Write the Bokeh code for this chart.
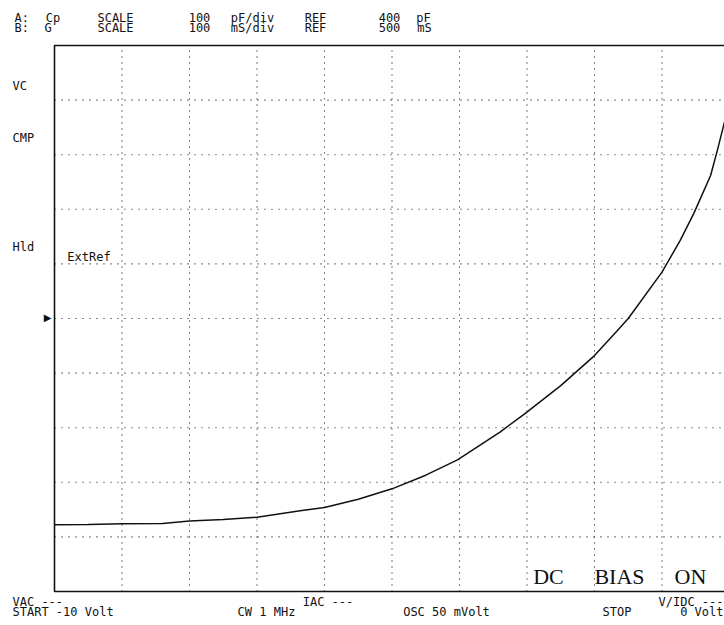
from bokeh.plotting import figure
from bokeh.models import Label, Range1d
from bokeh.embed import file_html
from bokeh.resources import INLINE

bias_volts = [-10.0, -9.5, -9.0, -8.4, -8.0, -7.5, -7.0, -6.36, -6.0, -5.5,
              -5.0, -4.5, -4.03, -3.4, -3.04, -2.5, -2.3, -2.0, -1.66, -1.5,
              -1.0, -0.73, -0.53, -0.43, -0.28, -0.18, -0.08, 0.0]
cp_pf = [22, 22.5, 24, 24.5, 29, 32, 36, 48, 54, 69,
         88, 113, 141, 192, 225, 277, 299, 332, 378, 400,
         485, 543, 592, 620, 662, 708, 757, 795]

v_start, v_stop = -10.0, 0.0          # sweep START / STOP (Volt)
cp_low, cp_high = -100.0, 900.0       # REF 400 pF at centre, 100 pF/div
x_grid_ticks = [-9, -8, -7, -6, -5, -4, -3, -2, -1]
y_grid_ticks = [0, 100, 200, 300, 400, 500, 600, 700, 800]

header_row_a = ["A:", "Cp", "SCALE", "100", "pF/div", "REF", "400", "pF"]
header_row_b = ["B:", "G", "SCALE", "100", "mS/div", "REF", "500", "mS"]
side_labels = ["VC", "CMP", "Hld"]
footer_row1 = ["VAC ---", "IAC ---", "V/IDC ---"]
footer_row2 = ["START -10 Volt", "CW 1 MHz", "OSC 50 mVolt", "STOP", "0 Volt"]
bias_words = ["DC", "BIAS", "ON"]

# ---- layout (page pixel positions of the screen annotations) ----
W, H = 724, 625
header_x_a = [14, 52.5, 115, 199, 252, 315, 389, 423]
header_x_b = [14, 47.5, 115, 199, 252, 315, 389, 424]
header_align = ["left", "center", "center", "center", "center", "center", "center", "center"]
side_x = [12, 12, 12]
side_y = [85, 137, 246]
footer1_x = [12, 327.5, 723]
footer1_align = ["left", "center", "right"]
footer2_x = [12, 266, 446, 616.5, 723]
footer2_align = ["left", "center", "center", "center", "right"]
bias_x = [548, 619, 690]

# The instrument screen is the whole canvas; the graticule box sits in it.
p = figure(width=W, height=H, output_backend="svg",
           toolbar_location=None, tools="",
           x_axis_location=None, y_axis_location=None,
           x_range=Range1d(-10.8, -0.074),
           y_range=Range1d(-162.3, 982.4),
           min_border=0)
p.outline_line_color = None
p.grid.visible = False
p.background_fill_color = "white"
p.border_fill_color = "white"

# dotted graticule
p.segment(x0=x_grid_ticks, x1=x_grid_ticks,
          y0=[cp_low] * len(x_grid_ticks), y1=[cp_high] * len(x_grid_ticks),
          line_color="#111111", line_width=1.1, line_dash="1 5")
p.segment(x0=[v_start] * len(y_grid_ticks), x1=[v_stop] * len(y_grid_ticks),
          y0=y_grid_ticks, y1=y_grid_ticks,
          line_color="#111111", line_width=1.1, line_dash="1 6")

# graticule frame (left, top, bottom)
p.line([v_stop, v_start, v_start, v_stop], [cp_high, cp_high, cp_low, cp_low],
       line_color="#111111", line_width=1.6)

# trace A: Cp vs DC bias
p.line(bias_volts, cp_pf, line_color="#111111", line_width=1.5)

MONO = "DejaVu Sans Mono"

def put(text, px, py, size="12px", font=MONO, align="center", baseline="alphabetic"):
    p.add_layout(Label(x=px, y=H - py, x_units="screen", y_units="screen",
                       text=text, text_font=font, text_font_size=size,
                       text_align=align, text_baseline=baseline,
                       text_color="#111111"))

for t, cx, a in zip(header_row_a, header_x_a, header_align):
    put(t, cx, 17, align=a)
for t, cx, a in zip(header_row_b, header_x_b, header_align):
    put(t, cx, 27, align=a)

for t, cx, cy in zip(side_labels, side_x, side_y):
    put(t, cx, cy, align="left", baseline="middle")
put("ExtRef", 88.5, 256, baseline="middle")
put("\u25B6", 47, 317, size="10px", font="DejaVu Sans", baseline="middle")

for t, cx, a in zip(footer_row1, footer1_x, footer1_align):
    put(t, cx, 601, align=a)
for t, cx, a in zip(footer_row2, footer2_x, footer2_align):
    put(t, cx, 611, align=a)

for t, cx in zip(bias_words, bias_x):
    put(t, cx, 576, size="22px", font="Liberation Serif")

open("out.html", "w").write(file_html(p, INLINE))
